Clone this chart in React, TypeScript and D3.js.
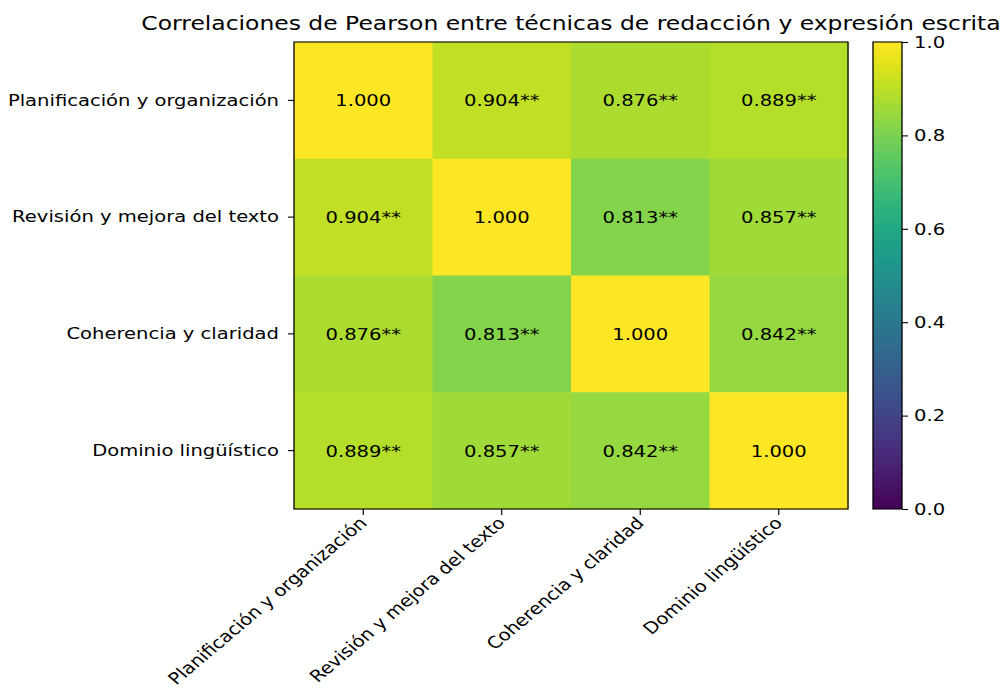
import { useEffect, useRef } from 'react';
import * as d3 from 'd3';

// Variables of the matrix (rows and columns share them)
const VARIABLES = [
  'Planificación y organización',
  'Revisión y mejora del texto',
  'Coherencia y claridad',
  'Dominio lingüístico',
];

// Pearson r, row by row
const ROW_PLAN = [1.0, 0.904, 0.876, 0.889];
const ROW_REV = [0.904, 1.0, 0.813, 0.857];
const ROW_COH = [0.876, 0.813, 1.0, 0.842];
const ROW_DOM = [0.889, 0.857, 0.842, 1.0];
const MATRIX = [ROW_PLAN, ROW_REV, ROW_COH, ROW_DOM];

const COLORBAR_TICKS = [0, 0.2, 0.4, 0.6, 0.8, 1.0];

const TITLE = 'Correlaciones de Pearson entre técnicas de redacción y expresión escrita';
const FONT = '"DejaVu Sans", sans-serif';
// the reference figure is stretched horizontally
const SX = 1.185;

export default function App() {
  const svgRef = useRef<SVGSVGElement>(null);

  useEffect(() => {
    document.body.style.margin = '0';
    document.body.style.overflow = 'hidden';
    if (!svgRef.current) return;
    const svg = d3.select(svgRef.current);
    svg.selectAll('*').remove();

    const root = svg.append('g').attr('transform', `scale(${SX},1)`);

    // pixel positions in the picture, converted to unscaled space
    const plot = { left: 294 / SX, top: 42, right: 848 / SX, bottom: 509 };
    const cbar = { left: 873 / SX, right: 902 / SX };
    const fs = '16.5px';

    const x = d3.scaleBand().domain(VARIABLES).range([plot.left, plot.right]);
    const y = d3.scaleBand().domain(VARIABLES).range([plot.top, plot.bottom]);
    const color = d3.scaleSequential(d3.interpolateViridis).domain([0, 1]);

    // Cells
    const cells = MATRIX.flatMap((row, i) =>
      row.map((v, j) => ({ r: VARIABLES[i], c: VARIABLES[j], v, diag: i === j })));

    root.append('g')
      .selectAll('rect')
      .data(cells)
      .join('rect')
      .attr('x', d => x(d.c)!)
      .attr('y', d => y(d.r)!)
      .attr('width', x.bandwidth() + 0.5)
      .attr('height', y.bandwidth() + 0.5)
      .attr('fill', d => color(d.v));

    root.append('g')
      .selectAll('text')
      .data(cells)
      .join('text')
      .attr('x', d => x(d.c)! + x.bandwidth() / 2)
      .attr('y', d => y(d.r)! + y.bandwidth() / 2)
      .attr('text-anchor', 'middle')
      .attr('dominant-baseline', 'central')
      .attr('font-family', FONT)
      .attr('font-size', fs)
      .attr('fill', '#000')
      .text(d => d.diag ? d.v.toFixed(3) : `${d.v.toFixed(3)}**`);

    // Frame
    root.append('rect')
      .attr('x', plot.left)
      .attr('y', plot.top)
      .attr('width', plot.right - plot.left)
      .attr('height', plot.bottom - plot.top)
      .attr('fill', 'none')
      .attr('stroke', '#000')
      .attr('stroke-width', 1.1);

    // Y axis
    const yAxis = root.append('g')
      .attr('transform', `translate(${plot.left},0)`)
      .call(d3.axisLeft(y).tickSize(6 / SX).tickPadding(9 / SX));
    yAxis.select('.domain').remove();
    yAxis.selectAll('.tick line').attr('stroke', '#000').attr('stroke-width', 1.1);
    yAxis.selectAll('.tick text')
      .attr('font-family', FONT)
      .attr('font-size', fs)
      .attr('fill', '#000');

    // X axis with rotated labels
    const xAxis = root.append('g')
      .attr('transform', `translate(0,${plot.bottom})`)
      .call(d3.axisBottom(x).tickSize(6).tickPadding(5));
    xAxis.select('.domain').remove();
    xAxis.selectAll('.tick line').attr('stroke', '#000').attr('stroke-width', 1);
    xAxis.selectAll('.tick text')
      .attr('font-family', FONT)
      .attr('font-size', fs)
      .attr('fill', '#000')
      .attr('text-anchor', 'end')
      .attr('dy', null)
      .attr('y', 0)
      .attr('transform', 'translate(4,15) rotate(-45)');

    // Colorbar
    const cy = d3.scaleLinear().domain([0, 1]).range([plot.bottom, plot.top]);
    const grad = svg.append('defs').append('linearGradient')
      .attr('id', 'viridis-grad')
      .attr('x1', 0).attr('y1', 1).attr('x2', 0).attr('y2', 0);
    d3.range(0, 1.0001, 0.05).forEach(t => {
      grad.append('stop').attr('offset', t).attr('stop-color', color(t));
    });
    root.append('rect')
      .attr('x', cbar.left)
      .attr('y', plot.top)
      .attr('width', cbar.right - cbar.left)
      .attr('height', plot.bottom - plot.top)
      .attr('fill', 'url(#viridis-grad)')
      .attr('stroke', '#000')
      .attr('stroke-width', 1.1);

    const cAxis = root.append('g')
      .attr('transform', `translate(${cbar.right},0)`)
      .call(d3.axisRight(cy).tickValues(COLORBAR_TICKS).tickFormat(d3.format('.1f'))
        .tickSize(6 / SX).tickPadding(6 / SX));
    cAxis.select('.domain').remove();
    cAxis.selectAll('.tick line').attr('stroke', '#000').attr('stroke-width', 1.1);
    cAxis.selectAll('.tick text')
      .attr('font-family', FONT)
      .attr('font-size', fs)
      .attr('fill', '#000');

    // Title
    root.append('text')
      .attr('x', (plot.left + plot.right) / 2)
      .attr('y', 30)
      .attr('text-anchor', 'middle')
      .attr('font-family', FONT)
      .attr('font-size', '19.8px')
      .attr('fill', '#000')
      .text(TITLE);
  }, []);

  return (
    <svg
      ref={svgRef}
      width={1003}
      height={695}
      style={{ display: 'block', background: '#fff' }}
    />
  );
}
